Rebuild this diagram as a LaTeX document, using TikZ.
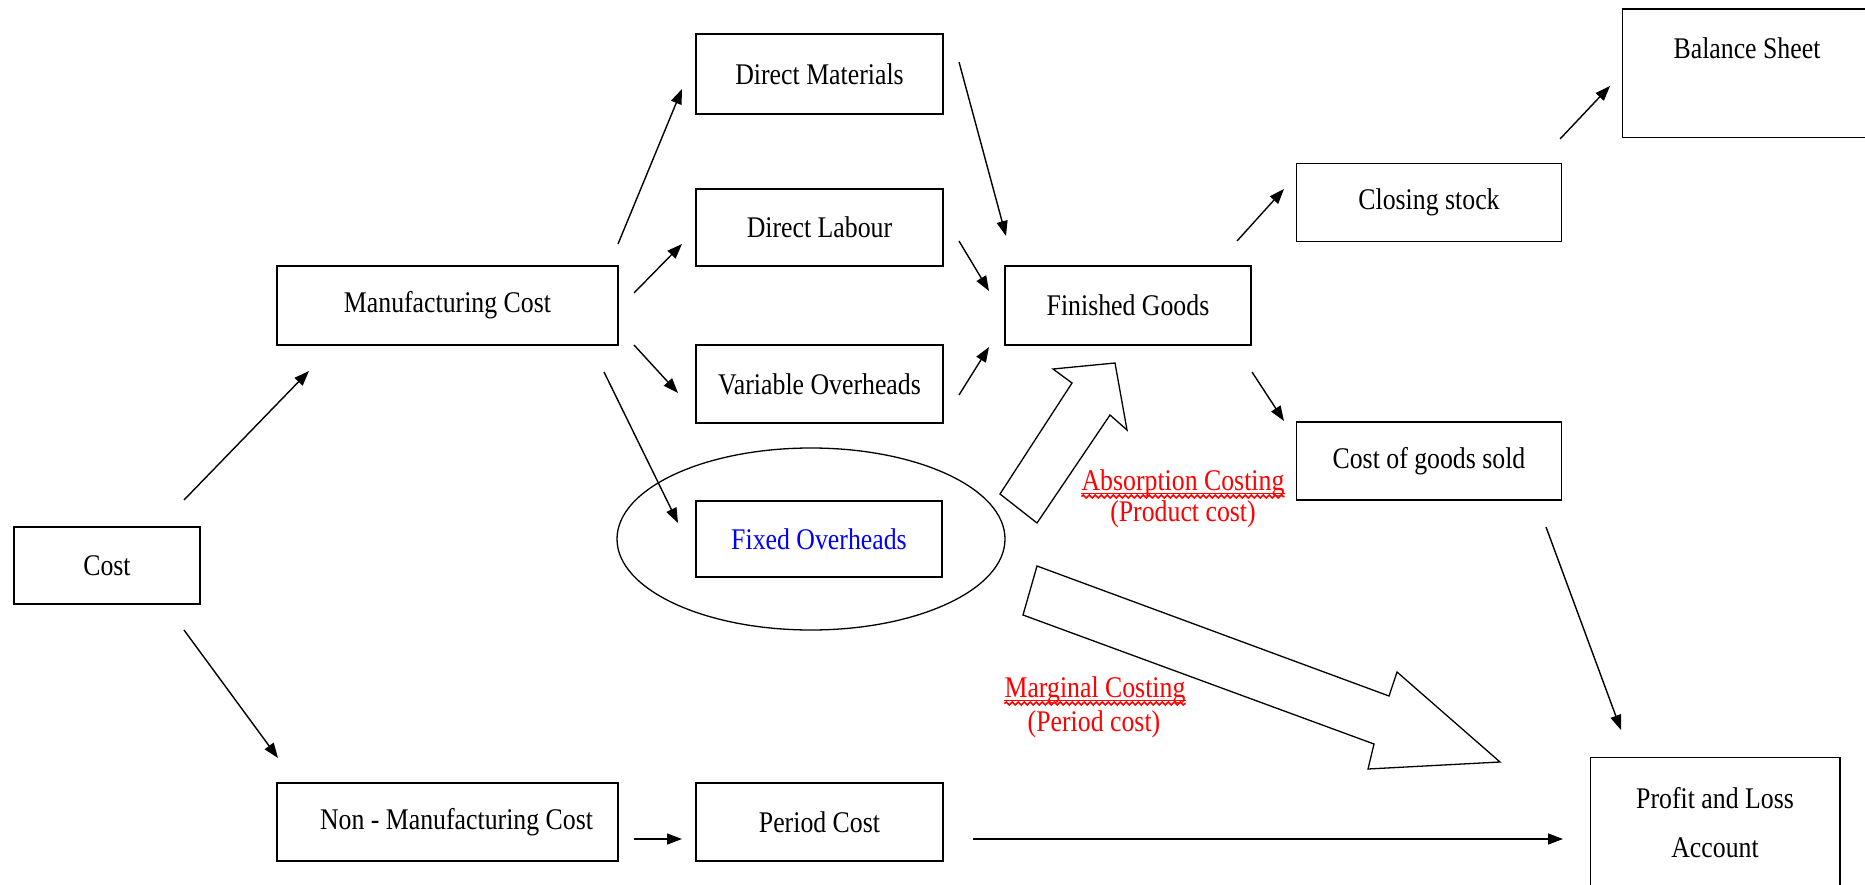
\documentclass[tikz,border=0pt]{standalone}
\usepackage{fontspec}
\setmainfont{Liberation Serif}[FakeStretch=0.86]
\usetikzlibrary{arrows.meta,decorations.pathmorphing,calc}
\tikzset{
  box/.style={draw=black,line width=1.5pt,inner sep=0pt,align=center,font=\fontsize{30}{36}\selectfont},
  arr/.style={line width=1.4pt,-{Triangle[length=15pt,width=11pt]}},
  blk/.style={draw=black,line width=1.3pt,fill=white,line join=miter},
  lbl/.style={text=red,inner sep=0pt,anchor=base,font=\fontsize{30}{36}\selectfont},
  wavy/.style={red,line width=1.6pt,decorate,decoration={snake,segment length=6pt,amplitude=1.4pt}}
}
\begin{document}
\begin{tikzpicture}[x=1pt,y=-1pt]
\clip (0,0) rectangle (1865,885);
\fill[white] (0,0) rectangle (1865,885);

% ellipse around fixed overheads
\draw[line width=1.3pt] (811,539) ellipse [x radius=194pt, y radius=91pt];

% boxes
\node[box,minimum width=186pt,minimum height=77pt] (cost) at (107,565.5) {Cost};
\node[box,minimum width=341pt,minimum height=79pt] (manuf) at (447.5,305.5) {Manufacturing Cost};
\node[box,minimum width=341pt,minimum height=78pt] (nonmanuf) at (447.5,822) {\hspace*{18pt}Non - Manufacturing Cost};
\node[box,minimum width=247pt,minimum height=80pt] (dm) at (819.5,74) {Direct Materials};
\node[box,minimum width=247pt,minimum height=77pt] (dl) at (819.5,227.5) {Direct Labour};
\node[box,minimum width=247pt,minimum height=78pt] (vo) at (819.5,384) {Variable Overheads};
\node[box,minimum width=246pt,minimum height=76pt,text=blue] (fo) at (819,539) {Fixed Overheads};
\node[box,minimum width=247pt,minimum height=78pt] (period) at (819.5,822) {Period Cost};
\node[box,minimum width=246pt,minimum height=79pt] (fg) at (1128,305.5) {Finished Goods};
\node[box,minimum width=265pt,minimum height=78pt] (closing) at (1429,202.5) {Closing stock};
\node[box,minimum width=265pt,minimum height=78pt] (cogs) at (1429,461) {Cost of goods sold};

% balance sheet (extends past right edge)
\node[box,draw=none,minimum width=262pt,minimum height=127pt] (bs) at (1754,73.5) {};
\draw[line width=1.5pt] (bs.north east) -- (bs.north west) -- (bs.south west) -- (bs.south east);
\node[box,draw=none,anchor=center] (bst) at (1747,48) {Balance Sheet};

% profit and loss (extends past bottom edge)
\node[box,draw=none,minimum width=248pt,minimum height=142pt] (pl) at (1715,829) {};
\draw[line width=1.5pt] (pl.south west) -- (pl.north west) -- (pl.north east) -- (pl.south east);
\node[box,draw=none] (pl1) at (1715,798) {Profit and Loss};
\node[box,draw=none] (pl2) at (1715,848) {Account};

% connector end points
\coordinate (c1s) at (184,500); \coordinate (c1e) at (309,371);
\coordinate (c2s) at (184,630); \coordinate (c2e) at (278,758);
\coordinate (m1s) at (618,244); \coordinate (m1e) at (682,89);
\coordinate (m2s) at (634,293); \coordinate (m2e) at (682,244);
\coordinate (m3s) at (634,345); \coordinate (m3e) at (678,393);
\coordinate (m4s) at (604,372); \coordinate (m4e) at (678,523);
\coordinate (f1s) at (959,62);  \coordinate (f1e) at (1006,236);
\coordinate (f2s) at (959,241); \coordinate (f2e) at (989,291);
\coordinate (f3s) at (959,395); \coordinate (f3e) at (989,347);
\coordinate (g1s) at (1237,241); \coordinate (g1e) at (1284,189);
\coordinate (g2s) at (1252,372); \coordinate (g2e) at (1284,421);
\coordinate (s1s) at (1560,139); \coordinate (s1e) at (1610,86);
\coordinate (s2s) at (1546,527); \coordinate (s2e) at (1621,730);
\coordinate (n1s) at (634,839); \coordinate (n1e) at (682,839);
\coordinate (p1s) at (973,839); \coordinate (p1e) at (1563,839);

\draw[arr] (c1s) -- (c1e);
\draw[arr] (c2s) -- (c2e);
\draw[arr] (m1s) -- (m1e);
\draw[arr] (m2s) -- (m2e);
\draw[arr] (m3s) -- (m3e);
\draw[arr] (m4s) -- (m4e);
\draw[arr] (f1s) -- (f1e);
\draw[arr] (f2s) -- (f2e);
\draw[arr] (f3s) -- (f3e);
\draw[arr] (g1s) -- (g1e);
\draw[arr] (g2s) -- (g2e);
\draw[arr] (s1s) -- (s1e);
\draw[arr] (s2s) -- (s2e);
\draw[arr] (n1s) -- (n1e);
\draw[arr] (p1s) -- (p1e);

% block arrows
\draw[blk] (1000,494) -- (1072,383) -- (1053,369) -- (1115,363) -- (1127,430) -- (1110,415) -- (1037,523) -- cycle;
\draw[blk] (1037,566) -- (1389,696) -- (1397,672) -- (1500,762) -- (1368,769) -- (1374,744) -- (1023,615) -- cycle;

% labels
\node[lbl] (abs) at (1183,490) {Absorption Costing};
\node[lbl] (prod) at (1183,521) {(Product cost)};
\draw[red,line width=0.9pt] ($(abs.base west)+(0,3)$) -- ($(abs.base east)+(0,3)$);
\draw[wavy] ($(abs.base west)+(0,6.5)$) -- ($(abs.base east)+(0,6.5)$);

\node[lbl] (marg) at (1095,697) {Marginal Costing};
\node[lbl] (per) at (1094,731) {(Period cost)};
\draw[red,line width=0.9pt] ($(marg.base west)+(0,3)$) -- ($(marg.base east)+(0,3)$);
\draw[wavy] ($(marg.base west)+(0,6.5)$) -- ($(marg.base east)+(0,6.5)$);
\end{tikzpicture}
\end{document}
